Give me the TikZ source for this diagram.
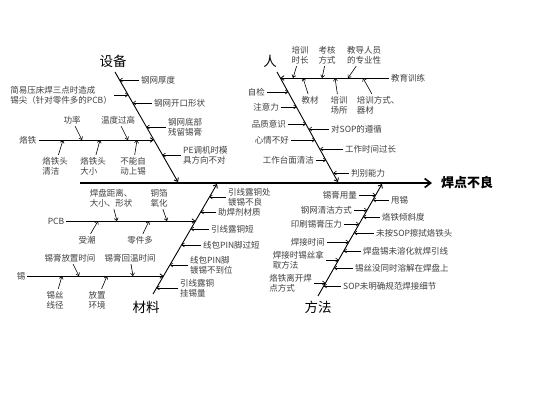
\documentclass[tikz,border=0pt]{standalone}
\usepackage{fontspec}
\setmainfont{Noto Sans CJK SC}
\usetikzlibrary{arrows.meta}

\begin{document}
\begin{tikzpicture}[x=1pt,y=-1pt,
    cause/.style ={font=\fontsize{8.5}{10}\selectfont, text=black!75, inner sep=2pt, align=left},
    category/.style ={font=\fontsize{13.5}{15}\selectfont, inner sep=0pt},
    effect/.style ={font=\fontsize{13}{15}\selectfont\bfseries, inner sep=0pt},
    spine/.style ={line width=1.6pt, -{Straight Barb[length=6pt,width=9pt]}},
    bone/.style ={line width=0.9pt, -{Straight Barb[length=3pt,width=5pt]}},
    branch/.style ={line width=0.8pt, -{Straight Barb[length=3pt,width=4.5pt]}},
    twig/.style ={line width=0.6pt, -{Straight Barb[length=2.5pt,width=4pt]}}]
   \useasboundingbox[fill=white] (0,0) rectangle (533,400);

   \coordinate (T) at (80,183);
   \coordinate (H) at (432,183);
   \node[effect,anchor=west] (Y) at (441,183) {焊点不良};
   \draw[spine] (T) to (H);

   \coordinate (A0) at (115,72);  \coordinate (A1) at (178,182);
   \coordinate (B0) at (277,72);  \coordinate (B1) at (338,182);
   \coordinate (C0) at (153,294); \coordinate (C1) at (217,184);
   \coordinate (D0) at (318,296); \coordinate (D1) at (382,184);
   \node[category] (A) at (113,61) {设备};
   \node[category] (B) at (270,61) {人};
   \node[category] (C) at (146,307) {材料};
   \node[category] (D) at (318,307) {方法};
   \draw[bone] (A0) to (A1);
   \draw[bone] (B0) to (B1);
   \draw[bone] (C0) to (C1);
   \draw[bone] (D0) to (D1);

   % 设备
   \node[cause,anchor=west] (A2) at (139,80) {钢网厚度};
   \node[cause,anchor=west] (A3) at (152,103) {钢网开口形状};
   \node[cause,anchor=west] (A4) at (166,127) {钢网底部\\残留锡膏};
   \node[cause,anchor=west] (A5) at (181,155) {PE调机时模\\具方向不对};
   \node[cause,anchor=east] (A6) at (114,95) {简易压床焊三点时造成\\锡尖（针对零件多的PCB）};
   \coordinate (a2) at (119.6,80);
   \coordinate (a3) at (132.8,103);
   \coordinate (a4) at (146.5,127);
   \coordinate (a5) at (162.5,155);
   \coordinate (a6) at (128.2,95);
   \draw[twig] (A2) to (a2);
   \draw[twig] (A3) to (a3);
   \draw[twig] (A4) to (a4);
   \draw[twig] (A5) to (a5);
   \draw[twig] (A6) to (a6);

   \node[cause] (A7) at (28,140) {烙铁};
   \coordinate (a7) at (153.9,140);
   \draw[branch] (A7) to (a7);
   \node[cause] (A8) at (72,120) {功率};
   \node[cause] (A9) at (118,120) {温度过高};
   \node[cause] (A10) at (55,166) {烙铁头\\清洁};
   \node[cause] (A11) at (93,166) {烙铁头\\大小};
   \node[cause] (A12) at (133,166) {不能自\\动上锡};
   \coordinate (a8) at (82,140);
   \coordinate (a9) at (128,140);
   \coordinate (a10) at (63,140);
   \coordinate (a11) at (100,140);
   \coordinate (a12) at (137,140);
   \draw[twig] (A8) to (a8);
   \draw[twig] (A9) to (a9);
   \draw[twig] (A10) to (a10);
   \draw[twig] (A11) to (a11);
   \draw[twig] (A12) to (a12);

   % 人
   \node[cause,anchor=west] (B2) at (389,78) {教育训练};
   \coordinate (b2) at (280.4,78);
   \draw[branch] (B2) to (b2);
   \node[cause] (B3) at (300,55) {培训\\时长};
   \node[cause] (B4) at (327,55) {考核\\方式};
   \node[cause] (B5) at (364,55) {教导人员\\的专业性};
   \node[cause] (B6) at (310,100) {教材};
   \node[cause] (B7) at (339,105) {培训\\场所};
   \node[cause] (B8) at (378,105) {培训方式、\\器材};
   \coordinate (b3) at (293,78);
   \coordinate (b4) at (322,78);
   \coordinate (b5) at (348,78);
   \coordinate (b6) at (303,78);
   \coordinate (b7) at (335,78);
   \coordinate (b8) at (363,78);
   \draw[twig] (B3) to (b3);
   \draw[twig] (B4) to (b4);
   \draw[twig] (B5) to (b5);
   \draw[twig] (B6) to (b6);
   \draw[twig] (B7) to (b7);
   \draw[twig] (B8) to (b8);

   \node[cause,anchor=east] (B9) at (267,92) {自检};
   \node[cause,anchor=east] (B10) at (281,107) {注意力};
   \node[cause,anchor=east] (B11) at (288,124) {品质意识};
   \node[cause,anchor=east] (B12) at (291,140) {心情不好};
   \node[cause,anchor=east] (B13) at (316,160) {工作台面清洁};
   \node[cause,anchor=west] (B14) at (329,129) {对SOP的遵循};
   \node[cause,anchor=west] (B15) at (343,149) {工作时间过长};
   \node[cause,anchor=west] (B16) at (349,173) {判别能力};
   \coordinate (b9) at (288.2,92);
   \coordinate (b10) at (296.6,107);
   \coordinate (b11) at (306.1,124);
   \coordinate (b12) at (315.1,140);
   \coordinate (b13) at (326.2,160);
   \coordinate (b14) at (308.9,129);
   \coordinate (b15) at (320.1,149);
   \coordinate (b16) at (333.5,173);
   \draw[twig] (B9) to (b9);
   \draw[twig] (B10) to (b10);
   \draw[twig] (B11) to (b11);
   \draw[twig] (B12) to (b12);
   \draw[twig] (B13) to (b13);
   \draw[twig] (B14) to (b14);
   \draw[twig] (B15) to (b15);
   \draw[twig] (B16) to (b16);

   % 材料
   \node[cause] (C2) at (56,221) {PCB};
   \coordinate (c2) at (195.5,221);
   \draw[branch] (C2) to (c2);
   \node[cause] (C3) at (111,198) {焊盘距离、\\大小、形状};
   \node[cause] (C4) at (159,198) {铜箔\\氧化};
   \node[cause] (C5) at (87,240) {受潮};
   \node[cause] (C6) at (140,240) {零件多};
   \coordinate (c3) at (117,221);
   \coordinate (c4) at (167,221);
   \coordinate (c5) at (98,221);
   \coordinate (c6) at (149,221);
   \draw[twig] (C3) to (c3);
   \draw[twig] (C4) to (c4);
   \draw[twig] (C5) to (c5);
   \draw[twig] (C6) to (c6);

   \node[cause] (C7) at (21,276) {锡};
   \coordinate (c7) at (163.5,276);
   \draw[branch] (C7) to (c7);
   \node[cause] (C8) at (70,258) {锡膏放置时间};
   \node[cause] (C9) at (130,258) {锡膏回温时间};
   \node[cause] (C10) at (55,300) {锡丝\\线径};
   \node[cause] (C11) at (97,300) {放置\\环境};
   \coordinate (c8) at (79,276);
   \coordinate (c9) at (133,276);
   \coordinate (c10) at (62,276);
   \coordinate (c11) at (107,276);
   \draw[twig] (C8) to (c8);
   \draw[twig] (C9) to (c9);
   \draw[twig] (C10) to (c10);
   \draw[twig] (C11) to (c11);

   \node[cause,anchor=west] (C12) at (226,197) {引线露铜处\\镀锡不良};
   \node[cause,anchor=west] (C13) at (216,212) {助焊剂材质};
   \node[cause,anchor=west] (C14) at (209,229) {引线露铜短};
   \node[cause,anchor=west] (C15) at (201,245) {线包PIN脚过短};
   \node[cause,anchor=west] (C16) at (188,265) {线包PIN脚\\镀锡不到位};
   \node[cause,anchor=west] (C17) at (178,288) {引线露铜\\挂锡量};
   \coordinate (c12) at (209.4,197);
   \coordinate (c13) at (200.7,212);
   \coordinate (c14) at (190.8,229);
   \coordinate (c15) at (181.5,245);
   \coordinate (c16) at (169.9,265);
   \coordinate (c17) at (156.5,288);
   \draw[twig] (C12) to (c12);
   \draw[twig] (C13) to (c13);
   \draw[twig] (C14) to (c14);
   \draw[twig] (C15) to (c15);
   \draw[twig] (C16) to (c16);
   \draw[twig] (C17) to (c17);

   % 方法
   \node[cause,anchor=east] (D2) at (359,195) {锡膏用量};
   \node[cause,anchor=east] (D3) at (354,210) {钢网清洁方式};
   \node[cause,anchor=east] (D4) at (344,224) {印刷锡膏压力};
   \node[cause,anchor=east] (D5) at (327,242) {焊接时间};
   \node[cause,anchor=east] (D6) at (326,260) {焊接时锡丝拿\\取方法};
   \node[cause,anchor=east] (D7) at (314,283) {烙铁离开焊\\点方式};
   \node[cause,anchor=west] (D8) at (389,200) {甩锡};
   \node[cause,anchor=west] (D9) at (380,217) {烙铁倾斜度};
   \node[cause,anchor=west] (D10) at (374,233) {未按SOP擦拭烙铁头};
   \node[cause,anchor=west] (D11) at (361,251) {焊盘锡未溶化就焊引线};
   \node[cause,anchor=west] (D12) at (353,268) {锡丝没同时溶解在焊盘上};
   \node[cause,anchor=west] (D13) at (341,286) {SOP未明确规范焊接细节};
   \coordinate (d2) at (375.7,195);
   \coordinate (d3) at (367.1,210);
   \coordinate (d4) at (359.1,224);
   \coordinate (d5) at (348.9,242);
   \coordinate (d6) at (338.6,260);
   \coordinate (d7) at (325.4,283);
   \coordinate (d8) at (372.9,200);
   \coordinate (d9) at (363.1,217);
   \coordinate (d10) at (354,233);
   \coordinate (d11) at (343.7,251);
   \coordinate (d12) at (334,268);
   \coordinate (d13) at (323.7,286);
   \draw[twig] (D2) to (d2);
   \draw[twig] (D3) to (d3);
   \draw[twig] (D4) to (d4);
   \draw[twig] (D5) to (d5);
   \draw[twig] (D6) to (d6);
   \draw[twig] (D7) to (d7);
   \draw[twig] (D8) to (d8);
   \draw[twig] (D9) to (d9);
   \draw[twig] (D10) to (d10);
   \draw[twig] (D11) to (d11);
   \draw[twig] (D12) to (d12);
   \draw[twig] (D13) to (d13);
\end{tikzpicture}
\end{document}
